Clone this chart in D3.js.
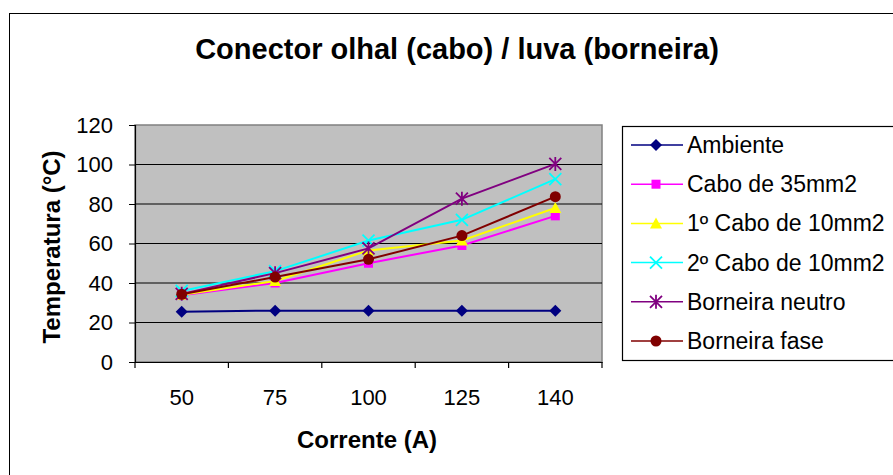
<!DOCTYPE html>
<html>
<head>
<meta charset="utf-8">
<script src="https://cdn.jsdelivr.net/npm/d3@7"></script>
<style>
  body { margin: 0; background: #fff; }
  text { font-family: "Liberation Sans", Arial, sans-serif; }
</style>
</head>
<body>
<svg width="893" height="475"></svg>
<script>
const categories = ["50", "75", "100", "125", "140"];
const yTicks = [0, 20, 40, 60, 80, 100, 120];

const ambiente = [25.5, 26, 26, 26, 26];
const cabo35 = [33.8, 40, 50, 59, 74];
const cabo10a = [34, 41, 56.5, 61.5, 78];
const cabo10b = [36, 46, 61.5, 72, 92.6];
const neutro = [34.5, 45, 57.5, 82.7, 100.3];
const fase = [34.3, 43, 52, 64, 83.7];

const seriesNames = ["Ambiente", "Cabo de 35mm2", "1º Cabo de 10mm2", "2º Cabo de 10mm2", "Borneira neutro", "Borneira fase"];
const seriesValues = [ambiente, cabo35, cabo10a, cabo10b, neutro, fase];
const seriesColors = ["#000080", "#ff00ff", "#ffff00", "#00ffff", "#800080", "#800000"];
const seriesSymbols = ["diamond", "square", "triangle", "x", "star", "circle"];

const svg = d3.select("svg");

// outer frame
svg.append("rect")
  .attr("x", 9.5).attr("y", 13.5)
  .attr("width", 900).attr("height", 480)
  .attr("fill", "none").attr("stroke", "#000").attr("stroke-width", 1);

const plotLeft = 135, plotRight = 602, plotTop = 125, plotBottom = 362;

const x = d3.scaleBand().domain(categories).range([plotLeft, plotRight]);
const y = d3.scaleLinear().domain([0, 120]).range([plotBottom, plotTop]);

// plot area
svg.append("rect")
  .attr("x", plotLeft).attr("y", plotTop)
  .attr("width", plotRight - plotLeft).attr("height", plotBottom - plotTop)
  .attr("fill", "#c0c0c0").attr("stroke", "#808080").attr("stroke-width", 1.5);

// gridlines
svg.append("g")
  .selectAll("line")
  .data(yTicks.filter(d => d > 0 && d < 120))
  .enter()
  .append("line")
  .attr("x1", plotLeft).attr("x2", plotRight)
  .attr("y1", d => y(d)).attr("y2", d => y(d))
  .attr("stroke", "#000").attr("stroke-width", 1.2);

// y axis
const yAxis = svg.append("g")
  .attr("transform", `translate(${plotLeft},0)`)
  .call(d3.axisLeft(y).tickValues(yTicks).tickSize(6).tickPadding(16));
yAxis.select(".domain").attr("stroke", "#000").attr("stroke-width", 1.2);
yAxis.selectAll("text").attr("font-size", "22px").attr("fill", "#000");

// x axis
const xAxis = svg.append("g")
  .attr("transform", `translate(0,${plotBottom})`)
  .call(d3.axisBottom(x).tickSize(0).tickPadding(27));
xAxis.select(".domain").attr("stroke", "#000").attr("stroke-width", 1.2);
xAxis.selectAll("text").attr("font-size", "22px").attr("fill", "#000");

// x tick marks at band boundaries
svg.append("g")
  .selectAll("line")
  .data(categories.concat(["end"]))
  .enter()
  .append("line")
  .attr("x1", (d, i) => plotLeft + i * x.step())
  .attr("x2", (d, i) => plotLeft + i * x.step())
  .attr("y1", plotBottom).attr("y2", plotBottom + 6)
  .attr("stroke", "#000").attr("stroke-width", 1.2);

// title
svg.append("text")
  .attr("x", 457).attr("y", 59)
  .attr("text-anchor", "middle")
  .attr("font-size", "29px").attr("font-weight", "bold")
  .text("Conector olhal (cabo) / luva (borneira)");

// axis titles
svg.append("text")
  .attr("x", 367).attr("y", 448)
  .attr("text-anchor", "middle")
  .attr("font-size", "24px").attr("font-weight", "bold")
  .text("Corrente (A)");

svg.append("text")
  .attr("transform", "translate(60,247) rotate(-90)")
  .attr("text-anchor", "middle")
  .attr("font-size", "24px").attr("font-weight", "bold")
  .text("Temperatura (°C)");

function drawMarker(g, type, color, cx, cy) {
  if (type === "diamond") {
    g.append("path").attr("d", `M${cx},${cy - 6}L${cx + 6},${cy}L${cx},${cy + 6}L${cx - 6},${cy}Z`).attr("fill", color);
  } else if (type === "square") {
    g.append("rect").attr("x", cx - 4.5).attr("y", cy - 4.5).attr("width", 9).attr("height", 9).attr("fill", color);
  } else if (type === "triangle") {
    g.append("path").attr("d", `M${cx},${cy - 6}L${cx + 6},${cy + 5}L${cx - 6},${cy + 5}Z`).attr("fill", color);
  } else if (type === "x") {
    g.append("path").attr("d", `M${cx - 6},${cy - 6}L${cx + 6},${cy + 6}M${cx - 6},${cy + 6}L${cx + 6},${cy - 6}`)
      .attr("stroke", color).attr("stroke-width", 1.8);
  } else if (type === "star") {
    g.append("path").attr("d", `M${cx - 6},${cy - 6}L${cx + 6},${cy + 6}M${cx - 6},${cy + 6}L${cx + 6},${cy - 6}M${cx},${cy - 7}L${cx},${cy + 7}`)
      .attr("stroke", color).attr("stroke-width", 1.8);
  } else if (type === "circle") {
    g.append("circle").attr("cx", cx).attr("cy", cy).attr("r", 5.5).attr("fill", color);
  }
}

const line = d3.line()
  .x((d, i) => x(categories[i]) + x.bandwidth() / 2)
  .y(d => y(d));

seriesValues.forEach((vals, s) => {
  const g = svg.append("g");
  g.append("path")
    .attr("d", line(vals))
    .attr("fill", "none")
    .attr("stroke", seriesColors[s])
    .attr("stroke-width", 2);
  vals.forEach((v, i) => {
    drawMarker(g, seriesSymbols[s], seriesColors[s], x(categories[i]) + x.bandwidth() / 2, y(v));
  });
});

// legend
svg.append("rect")
  .attr("x", 622.5).attr("y", 126.5)
  .attr("width", 300).attr("height", 234)
  .attr("fill", "#fff").attr("stroke", "#000").attr("stroke-width", 1.2);

const legend = svg.selectAll(".legend")
  .data(seriesNames)
  .enter()
  .append("g")
  .attr("class", "legend")
  .attr("transform", (d, i) => `translate(0,${145 + i * 39.2})`);

legend.append("line")
  .attr("x1", 631).attr("x2", 683)
  .attr("y1", 0).attr("y2", 0)
  .attr("stroke", (d, i) => seriesColors[i])
  .attr("stroke-width", 1.5);

legend.each(function (d, i) {
  drawMarker(d3.select(this), seriesSymbols[i], seriesColors[i], 656, 0);
});

legend.append("text")
  .attr("x", 687).attr("y", 8)
  .attr("font-size", "23px")
  .text(d => d);
</script>
</body>
</html>
